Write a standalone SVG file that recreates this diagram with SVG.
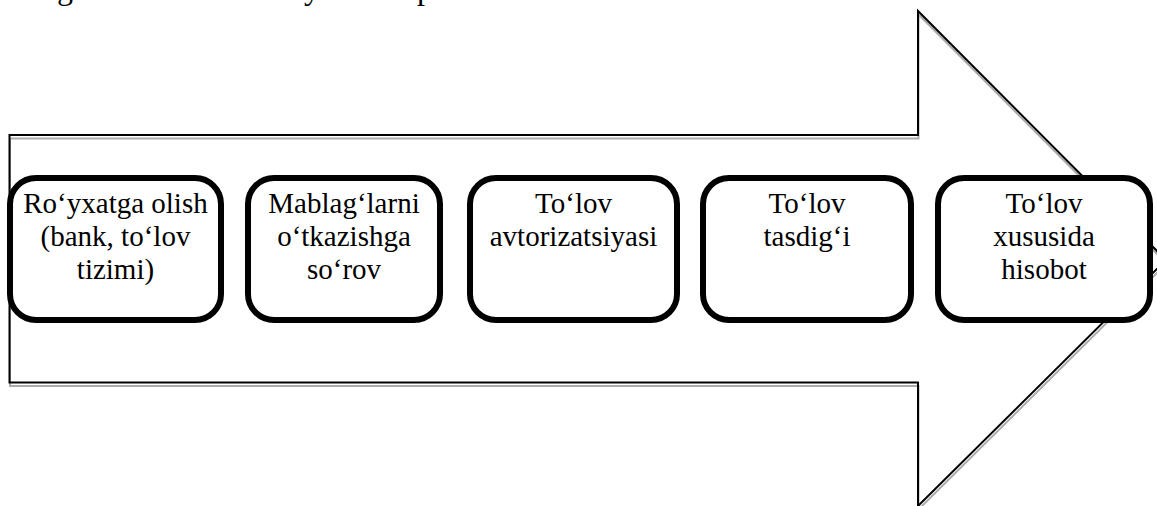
<svg xmlns="http://www.w3.org/2000/svg" width="1157" height="506" viewBox="0 0 1157 506">
<style>
.arrow{fill:none;stroke:#000;stroke-width:2;stroke-linejoin:miter}
.shadow{fill:none;stroke:#ababab;stroke-width:2}
.box{fill:#fff;stroke:#000;stroke-width:6}
text{font-family:'Liberation Serif','Times New Roman',Times,'Nimbus Roman','DejaVu Serif',serif;fill:#000}
.t{font-size:29px;text-anchor:middle}
.frag{font-size:32px}
</style>
<g id="top-text-fragments">
<text class="frag" x="57" y="-1" font-family="Liberation Serif, serif">g</text>
<text class="frag" x="304" y="-1" font-family="Liberation Serif, serif">y</text>
<text class="frag" x="417" y="-1" font-family="Liberation Serif, serif">p</text>
</g>
<g id="arrow">
<polygon class="shadow" transform="translate(0.5,3.5)" points="9.5,135 918,135 918,11 1166,260 918,506 918,382.5 9.5,382.5"/>
<polygon class="arrow" points="9.5,135 918,135 918,11 1166,260 918,506 918,382.5 9.5,382.5"/>
</g>
<g id="connectors"></g>
<g id="node1">
<rect class="box" x="10" y="178" width="211" height="142" rx="26"/>
<text class="t" x="115.5" y="213" font-family="Liberation Serif, serif">Ro‘yxatga olish</text>
<text class="t" x="115.5" y="246" font-family="Liberation Serif, serif">(bank, to‘lov</text>
<text class="t" x="115.5" y="279" font-family="Liberation Serif, serif">tizimi)</text>
</g>
<g id="node2">
<rect class="box" x="248" y="178" width="192" height="142" rx="26"/>
<text class="t" x="344" y="213" font-family="Liberation Serif, serif">Mablag‘larni</text>
<text class="t" x="344" y="246" font-family="Liberation Serif, serif">o‘tkazishga</text>
<text class="t" x="344" y="279" font-family="Liberation Serif, serif">so‘rov</text>
</g>
<g id="node3">
<rect class="box" x="470" y="178" width="207" height="142" rx="26"/>
<text class="t" x="573.5" y="213" font-family="Liberation Serif, serif">To‘lov</text>
<text class="t" x="573.5" y="246" font-family="Liberation Serif, serif">avtorizatsiyasi</text>
</g>
<g id="node4">
<rect class="box" x="703" y="178" width="208" height="142" rx="26"/>
<text class="t" x="807" y="213" font-family="Liberation Serif, serif">To‘lov</text>
<text class="t" x="807" y="246" font-family="Liberation Serif, serif">tasdig‘i</text>
</g>
<g id="node5">
<rect class="box" x="938" y="178" width="212" height="142" rx="26"/>
<text class="t" x="1044" y="213" font-family="Liberation Serif, serif">To‘lov</text>
<text class="t" x="1044" y="246" font-family="Liberation Serif, serif">xususida</text>
<text class="t" x="1044" y="279" font-family="Liberation Serif, serif">hisobot</text>
</g>
</svg>
